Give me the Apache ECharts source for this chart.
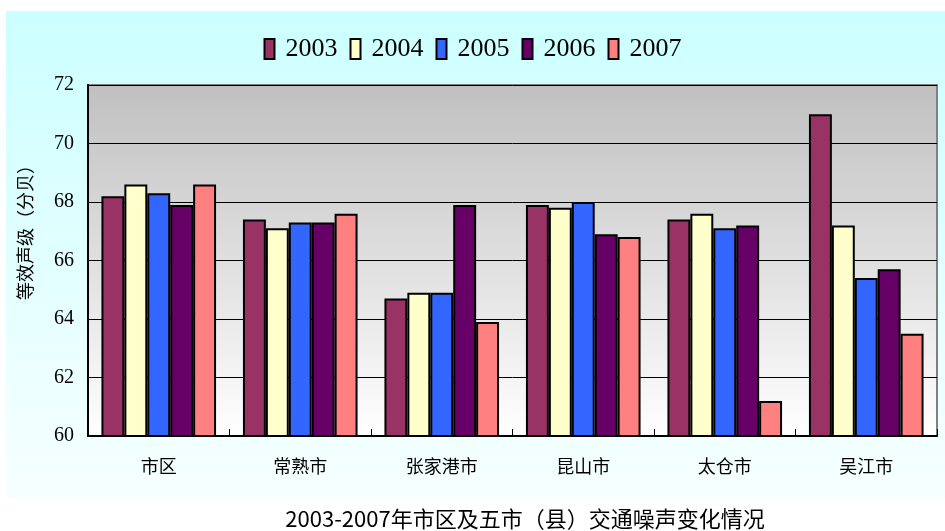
<!DOCTYPE html>
<html>
<head>
<meta charset="utf-8">
<script src="https://cdn.jsdelivr.net/npm/echarts@6/dist/echarts.min.js"></script>
<style>html,body{margin:0;padding:0;background:#fff;}#c{width:945px;height:531px;}</style>
</head>
<body>
<div id="c"></div>
<script>
const categories = ['市区', '常熟市', '张家港市', '昆山市', '太仓市', '吴江市'];
const years = ['2003', '2004', '2005', '2006', '2007'];
const v2003 = [68.2, 67.4, 64.7, 67.9, 67.4, 71.0];
const v2004 = [68.6, 67.1, 64.9, 67.8, 67.6, 67.2];
const v2005 = [68.3, 67.3, 64.9, 68.0, 67.1, 65.4];
const v2006 = [67.9, 67.3, 67.9, 66.9, 67.2, 65.7];
const v2007 = [68.6, 67.6, 63.9, 66.8, 61.2, 63.5];
const colors = ['#993366', '#ffffcc', '#3366ff', '#660066', '#ff8080'];
const yTicks = [60, 62, 64, 66, 68, 70, 72];
const yName = '等效声级（分贝）';
const title = '2003-2007年市区及五市（县）交通噪声变化情况';

const seriesData = [v2003, v2004, v2005, v2006, v2007];
const chart = echarts.init(document.getElementById('c'), null, {renderer: 'canvas'});
const CJK = '"Noto Sans CJK SC", sans-serif';
const SERIF = '"Liberation Serif", "DejaVu Serif", serif';

chart.setOption({
  animation: false,
  backgroundColor: '#ffffff',
  graphic: [{
    type: 'rect', z: -10, silent: true,
    shape: {x: 6, y: 11, width: 939, height: 487},
    style: {fill: new echarts.graphic.LinearGradient(0, 0, 0, 1, [
      {offset: 0, color: '#ccffff'}, {offset: 1, color: '#f7ffff'}])}
  }, {
    type: 'text', silent: true, x: 25, y: 228, rotation: Math.PI / 2,
    style: {text: yName, fill: '#000', font: '18px "Noto Sans CJK SC", sans-serif',
      align: 'center', verticalAlign: 'middle'}
  }],
  title: {
    text: title, left: 520, top: 503, textAlign: 'center',
    textStyle: {fontFamily: CJK, fontSize: 22, fontWeight: 'normal', color: '#000'}
  },
  legend: {
    data: years, top: 31, left: 'center', icon: 'rect',
    itemWidth: 10, itemHeight: 20, itemGap: 12,
    textStyle: {fontFamily: SERIF, fontSize: 26, color: '#000', padding: [0, 0, 0, 6]},
    itemStyle: {borderColor: '#000', borderWidth: 2}
  },
  grid: {
    left: 88, right: 8, top: 85, bottom: 95,
    show: true, borderColor: '#808080', borderWidth: 2,
    backgroundColor: new echarts.graphic.LinearGradient(0, 0, 0, 1, [
      {offset: 0, color: '#c0c0c0'}, {offset: 1, color: '#ffffff'}])
  },
  xAxis: {
    type: 'category', data: categories,
    axisLine: {show: true, lineStyle: {color: '#000', width: 2}},
    axisTick: {show: true, inside: true, length: 7, lineStyle: {color: '#000'}},
    axisLabel: {fontFamily: CJK, fontSize: 18, color: '#000', margin: 21}
  },
  yAxis: {
    type: 'value', min: yTicks[0], max: yTicks[yTicks.length - 1], interval: 2,
    axisLine: {show: true, lineStyle: {color: '#000', width: 2}},
    axisTick: {show: true, inside: true, length: 5, lineStyle: {color: '#000'}},
    axisLabel: {fontFamily: SERIF, fontSize: 20, color: '#000', margin: 14},
    splitLine: {show: true, lineStyle: {color: '#000', width: 1}}
  },
  series: years.map((y, i) => ({
    name: y, type: 'bar', data: seriesData[i],
    barGap: '0%', barCategoryGap: '19%',
    itemStyle: {color: colors[i], borderColor: '#000', borderWidth: 2}
  }))
});
</script>
</body>
</html>
